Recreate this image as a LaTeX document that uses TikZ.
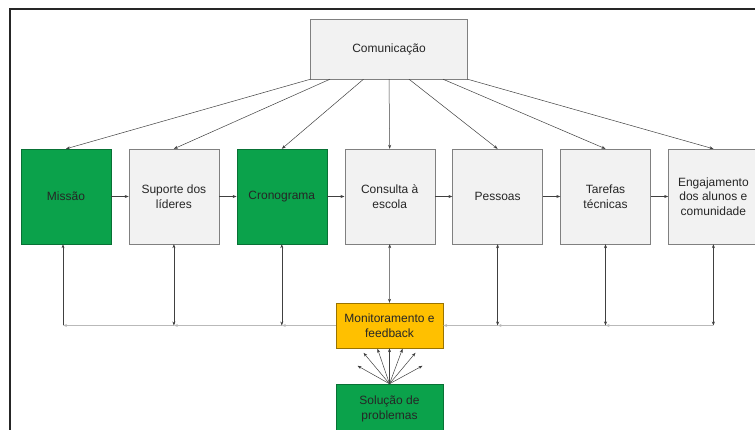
\documentclass[tikz,border=0pt]{standalone}
\usepackage{fontspec}
\setmainfont{Liberation Sans}
\usetikzlibrary{positioning,arrows.meta}

\definecolor{fatorverde}{HTML}{0BA24B}
\definecolor{fatorcinza}{HTML}{F2F2F2}
\definecolor{fatorlaranja}{HTML}{FFC000}

\tikzset{
  fator/.style={draw=gray, fill=fatorcinza, minimum width=90pt, minimum height=95pt,
    align=center, inner sep=2pt, font=\fontsize{12}{14.5}\selectfont, text=black!85},
  fatorverde/.style={fator, fill=fatorverde, draw=fatorverde!70!black},
  liga/.style={black!75, line width=0.5pt},
  retorno/.style={gray!55, line width=0.9pt},
}

\begin{document}
\begin{tikzpicture}[x=1pt, y=-1pt, >={Stealth[length=4pt,width=3pt]}]
\useasboundingbox (0,0) rectangle (755,430);
\draw[line width=1.5pt, black!85] (10,440) -- (10,9) -- (760,9);

\node[fator, minimum width=157pt, minimum height=60pt](com) at (389,49){Comunicação};

\node[fatorverde](missao) at (66,196.5){Missão};
\node[fator, right = 17.5pt of missao](suporte){Suporte dos\\líderes};
\node[fatorverde, right = 17.5pt of suporte](crono){Cronograma};
\node[fator, right = 17.5pt of crono](consulta){Consulta à\\escola};
\node[fator, right = 17.5pt of consulta](pessoas){Pessoas};
\node[fator, right = 17.5pt of pessoas](tarefas){Tarefas\\técnicas};
\node[fator, right = 17.5pt of tarefas](engaj){Engajamento\\dos alunos e\\comunidade};

\node[fator, fill=fatorlaranja, draw=fatorlaranja!60!black, minimum width=107pt, minimum height=45pt](mon) at (389.5,325.5){Monitoramento e\\feedback};
\node[fatorverde, minimum width=107pt, minimum height=50pt](sol) at (389.5,409){Solução de\\problemas};

%comunicacao
\draw[liga, ->]([xshift=-78.5pt]com.south)--(missao.north);
\draw[liga, ->]([xshift=-59pt]com.south)--(suporte.north);
\draw[liga, ->]([xshift=-25.5pt]com.south)--(crono.north);
\draw[liga, ->](com.south)--(consulta.north);
\draw[liga, ->]([xshift=20pt]com.south)--(pessoas.north);
\draw[liga, ->]([xshift=54pt]com.south)--(tarefas.north);
\draw[liga, ->]([xshift=78.5pt]com.south)--(engaj.north);

%sequencia
\draw[liga, ->](missao)--(suporte);
\draw[liga, ->](suporte)--(crono);
\draw[liga, ->](crono)--(consulta);
\draw[liga, ->](consulta)--(pessoas);
\draw[liga, ->](pessoas)--(tarefas);
\draw[liga, ->](tarefas)--(engaj);

%retorno
\coordinate (j1) at ([xshift=-3pt]missao.south |- mon);
\coordinate (j2) at (suporte.south |- mon);
\coordinate (j3) at (crono.south |- mon);
\coordinate (j5) at (pessoas.south |- mon);
\coordinate (j6) at (tarefas.south |- mon);
\coordinate (j7) at (engaj.south |- mon);

\draw[retorno, ->](mon.west)--(j3);
\draw[retorno, ->](j3)--(j2);
\draw[retorno, ->](j2)--(j1);
\draw[retorno, ->](j7)--(j6);
\draw[retorno, ->](j6)--(j5);
\draw[retorno, ->](j5)--(mon.east);

\draw[liga, ->](j1)--([xshift=-3pt]missao.south);
\draw[liga, <->](j2)--(suporte.south);
\draw[liga, <->](j3)--(crono.south);
\draw[liga, <->](mon.north)--(consulta.south);
\draw[liga, <->](j5)--(pessoas.south);
\draw[liga, <->](j6)--(tarefas.south);
\draw[liga, <->](j7)--(engaj.south);

%solucao
\draw[liga, ->](sol.north)--(mon.south);
\foreach \dx/\dy in {-32/-18, -26/-31, -12/-35, 13/-35, 26/-31, 33/-18}
  \draw[liga, ->](sol.north)--++(\dx,\dy);
\end{tikzpicture}
\end{document}
